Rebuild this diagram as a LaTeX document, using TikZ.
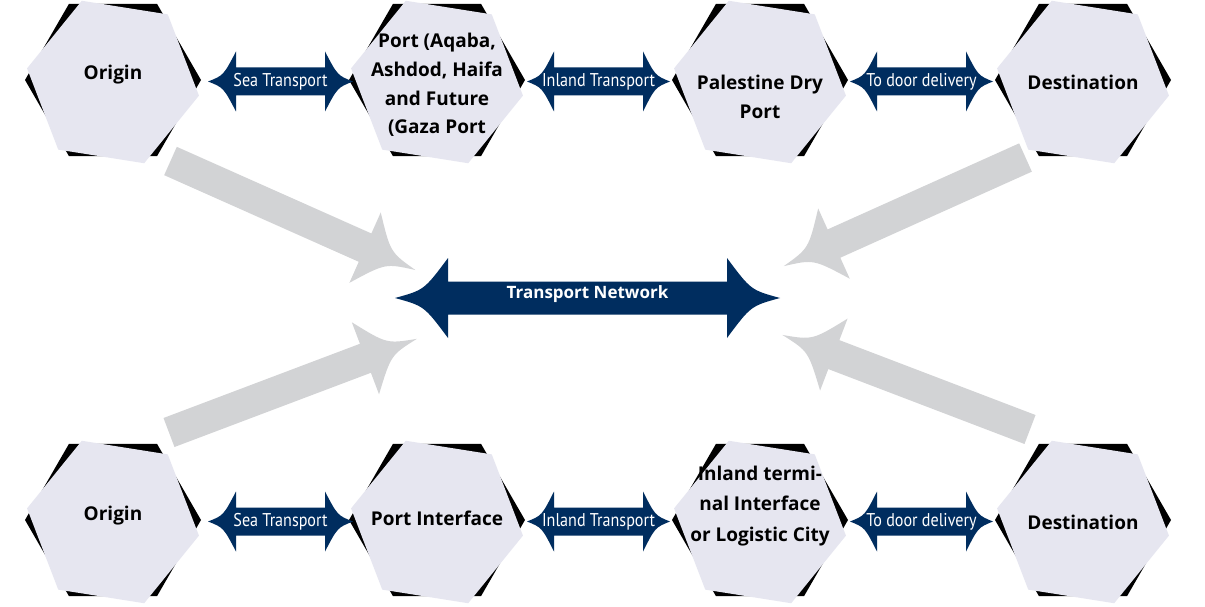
\documentclass[tikz,border=0pt]{standalone}
\usepackage{fontspec}
\setmainfont{Open Sans}
\newfontfamily\condfont{PT Sans}[FakeStretch=0.87]
\usetikzlibrary{shapes.geometric,calc}
\definecolor{navy}{RGB}{0,45,95}
\definecolor{greyc}{RGB}{210,211,213}
\definecolor{hexfill}{RGB}{230,230,240}
\tikzset{
  hexback/.style={regular polygon, regular polygon sides=6, minimum size=176pt,
    inner sep=0pt, outer sep=0pt, fill=black, draw=none},
  hexfront/.style={regular polygon, regular polygon sides=6, minimum size=174pt,
    inner sep=0pt, outer sep=0pt, fill=hexfill, draw=none, shape border rotate=-9},
  hextext/.style={font=\bfseries\fontsize{19}{28.7}\selectfont, align=center,
    text=black, inner sep=0pt},
  navylabel/.style={font=\condfont\fontsize{18.5}{21}\selectfont, text=white, inner sep=0pt},
  netlabel/.style={font=\bfseries\fontsize{17}{20}\selectfont, text=white, inner sep=0pt},
  pics/grarrow/.style={code={
    \fill[greyc] (0,-15.5) -- ({#1-55},-15.5) -- ({#1-55},-38.5)
      .. controls ({#1-30},-6) .. (#1,0)
      .. controls ({#1-30},6) .. ({#1-55},38.5)
      -- ({#1-55},15.5) -- (0,15.5) -- cycle;
  }},
}
% #1,#2 tip coordinates, #3 head half height, #4 shaft half height, #5 head length
\newcommand\navyarrow[5]{%
  \fill[navy] let \p1=(#1), \p2=(#2) in
    (\x1,\y1) .. controls (\x1+0.55*#5pt,\y1+0.2*#3pt) .. (\x1+#5pt,\y1+#3pt)
    -- (\x1+#5pt,\y1+#4pt) -- (\x2-#5pt,\y1+#4pt) -- (\x2-#5pt,\y1+#3pt)
    .. controls (\x2-0.55*#5pt,\y1+0.2*#3pt) .. (\x2,\y1)
    .. controls (\x2-0.55*#5pt,\y1-0.2*#3pt) .. (\x2-#5pt,\y1-#3pt)
    -- (\x2-#5pt,\y1-#4pt) -- (\x1+#5pt,\y1-#4pt) -- (\x1+#5pt,\y1-#3pt)
    .. controls (\x1+0.55*#5pt,\y1-0.2*#3pt) .. (\x1,\y1) -- cycle;
}
\begin{document}
\begin{tikzpicture}[x=1pt,y=-1pt]
\useasboundingbox (0,0) rectangle (1205,607);
\fill[white] (0,0) rectangle (1205,607);

% grey arrows toward the network
\pic[rotate=-24] (g1) at (170.5,161) {grarrow=268};
\pic[rotate=20.7] (g2) at (169,432.5) {grarrow=265};
\pic[rotate=-155.8] (g3) at (1025.5,157.5) {grarrow=265};
\pic[rotate=159.1] (g4) at (1030,429.5) {grarrow=265};

% hexagons, top row
\node[hexback] (o1b) at (113,80) {};
\node[hexfront] (o1) at (113,82) {};
\node[hexback] (p1b) at (437,80) {};
\node[hexfront] (p1) at (437,82) {};
\node[hexback] (d1b) at (760,80) {};
\node[hexfront] (d1) at (760,82) {};
\node[hexback] (e1b) at (1083,80) {};
\node[hexfront] (e1) at (1083,82) {};
% hexagons, bottom row
\node[hexback] (o2b) at (113,520) {};
\node[hexfront] (o2) at (113,522) {};
\node[hexback] (p2b) at (437,520) {};
\node[hexfront] (p2) at (437,522) {};
\node[hexback] (d2b) at (760,520) {};
\node[hexfront] (d2) at (760,522) {};
\node[hexback] (e2b) at (1083,520) {};
\node[hexfront] (e2) at (1083,522) {};

% hexagon texts
\node[hextext] (to1) at (113,75) {Origin};
\node[hextext] (tp1) at (437,85) {Port (Aqaba,\\Ashdod, Haifa\\and Future\\(Gaza Port};
\node[hextext] (td1) at (760,97) {Palestine Dry\\Port};
\node[hextext] (te1) at (1083,82) {Destination};
\node[hextext] (to2) at (113,516) {Origin};
\node[hextext] (tp2) at (437,518) {Port Interface};
\node[hextext, font=\bfseries\fontsize{19}{30.5}\selectfont] (td2) at (760,506) {Inland termi-\\nal Interface\\or Logistic City};
\node[hextext] (te2) at (1083,522) {Destination};

% tips of the navy connectors
\coordinate (s1a) at ([xshift=7pt,yshift=-1.5pt]o1b.east);
\coordinate (s1b) at ([xshift=4pt,yshift=-1.5pt]p1b.west);
\coordinate (i1a) at ([xshift=2pt,yshift=-1.5pt]p1b.east);
\coordinate (i1b) at ([xshift=-2pt,yshift=-1.5pt]d1b.west);
\coordinate (r1a) at ([xshift=2pt,yshift=-1.5pt]d1b.east);
\coordinate (r1b) at ([xshift=-2pt,yshift=-1.5pt]e1b.west);
\coordinate (s2a) at ([xshift=7pt,yshift=-1.5pt]o2b.east);
\coordinate (s2b) at ([xshift=4pt,yshift=-1.5pt]p2b.west);
\coordinate (i2a) at ([xshift=2pt,yshift=-1.5pt]p2b.east);
\coordinate (i2b) at ([xshift=-2pt,yshift=-1.5pt]d2b.west);
\coordinate (r2a) at ([xshift=2pt,yshift=-1.5pt]d2b.east);
\coordinate (r2b) at ([xshift=-2pt,yshift=-1.5pt]e2b.west);
\coordinate (tna) at (395,298);
\coordinate (tnb) at (780,298);

\navyarrow{s1a}{s1b}{30}{14}{28}
\navyarrow{i1a}{i1b}{30}{14}{27}
\navyarrow{r1a}{r1b}{30}{14}{27}
\navyarrow{s2a}{s2b}{30}{14}{28}
\navyarrow{i2a}{i2b}{30}{14}{27}
\navyarrow{r2a}{r2b}{30}{14}{27}
\navyarrow{tna}{tnb}{40}{16.5}{53}

\node[navylabel] (ls1) at ($(s1a)!0.5!(s1b)$) {Sea Transport};
\node[navylabel] (li1) at ($(i1a)!0.5!(i1b)$) {Inland Transport};
\node[navylabel] (lr1) at ($(r1a)!0.5!(r1b)$) {To door delivery};
\node[navylabel] (ls2) at ($(s2a)!0.5!(s2b)$) {Sea Transport};
\node[navylabel] (li2) at ($(i2a)!0.5!(i2b)$) {Inland Transport};
\node[navylabel] (lr2) at ($(r2a)!0.5!(r2b)$) {To door delivery};
\node[netlabel] (ltn) at ($(tna)!0.5!(tnb)+(0,-4)$) {Transport Network};
\end{tikzpicture}
\end{document}
